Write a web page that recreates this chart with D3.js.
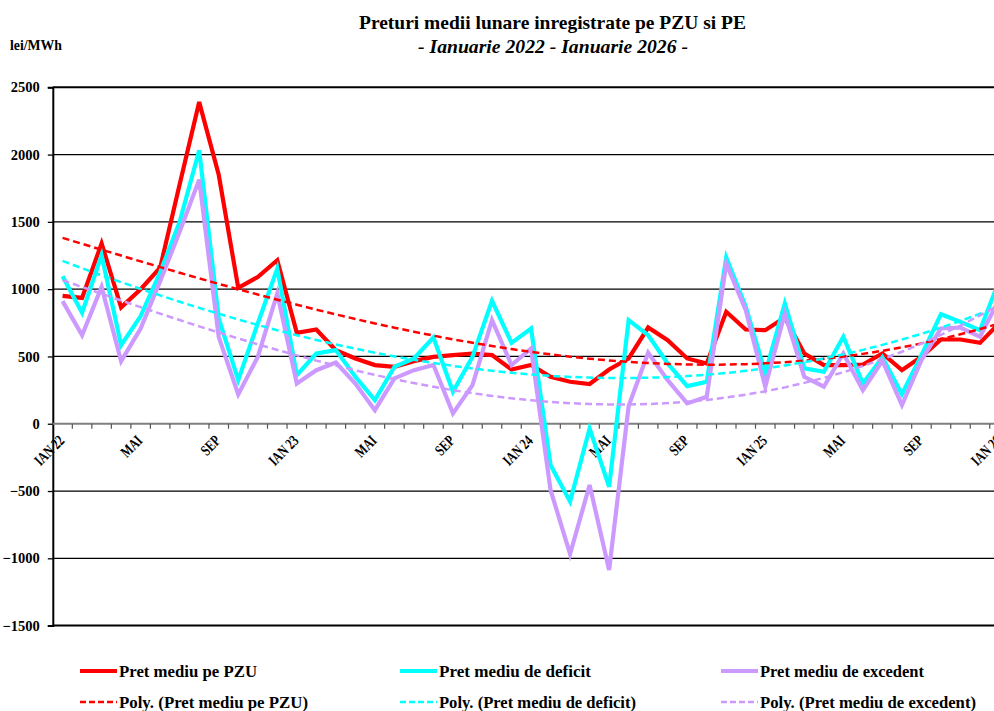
<!DOCTYPE html>
<html>
<head>
<meta charset="utf-8">
<script src="https://cdn.jsdelivr.net/npm/d3@7"></script>
<style>
  html, body { margin: 0; padding: 0; background: #fff; }
  svg { display: block; font-family: "Liberation Serif", "Times New Roman", serif; }
</style>
</head>
<body>
<svg id="chart" width="994" height="711"></svg>
<script>
// ---------------- DATA ----------------
const months = [
  "IAN 22","FEB 22","MAR 22","APR 22","MAI 22","IUN 22","IUL 22","AUG 22","SEP 22","OCT 22","NOI 22","DEC 22",
  "IAN 23","FEB 23","MAR 23","APR 23","MAI 23","IUN 23","IUL 23","AUG 23","SEP 23","OCT 23","NOI 23","DEC 23",
  "IAN 24","FEB 24","MAR 24","APR 24","MAI 24","IUN 24","IUL 24","AUG 24","SEP 24","OCT 24","NOI 24","DEC 24",
  "IAN 25","FEB 25","MAR 25","APR 25","MAI 25","IUN 25","IUL 25","AUG 25","SEP 25","OCT 25","NOI 25","DEC 25",
  "IAN 26"
];
// labels shown on the axis (every 4th month)
const tickLabels = {
  "IAN 22":"IAN 22","MAI 22":"MAI","SEP 22":"SEP",
  "IAN 23":"IAN 23","MAI 23":"MAI","SEP 23":"SEP",
  "IAN 24":"IAN 24","MAI 24":"MAI","SEP 24":"SEP",
  "IAN 25":"IAN 25","MAI 25":"MAI","SEP 25":"SEP",
  "IAN 26":"IAN 26"
};
const pzu = [950,935,1340,865,1000,1160,1780,2390,1850,1010,1090,1215,
             676,700,547,485,436,423,465,497,510,522,510,403,
             436,349,312,295,403,485,715,621,485,448,832,700,
             695,790,522,436,436,440,522,398,497,626,626,601,
             750];
const deficit = [1096,824,1252,584,800,1125,1500,2032,782,324,745,1153,
                 361,522,547,349,176,423,485,641,238,497,913,601,
                 708,-307,-579,-35,-468,770,658,448,280,312,1235,869,
                 374,893,411,386,646,299,493,220,510,814,757,695,
                 1070];
const excedent = [911,658,1017,465,708,1060,1426,1814,646,218,497,968,
                  299,398,455,299,101,337,398,436,77,287,770,436,
                  559,-493,-968,-455,-1087,131,527,324,151,200,1190,844,
                  275,819,349,275,522,250,468,139,473,708,715,646,
                  930];
const yTicks = [2500,2000,1500,1000,500,0,-500,-1000,-1500];
const seriesNames = ["Pret mediu pe PZU","Pret mediu de deficit","Pret mediu de excedent"];
const trendNames = ["Poly. (Pret mediu pe PZU)","Poly. (Pret mediu de deficit)","Poly. (Pret mediu de excedent)"];
const colors = ["#ff0000","#00ffff","#cc99ff"];

// ---------------- LAYOUT ----------------
const svg = d3.select("#chart");
const left = 52.8, step = 19.52;
const x = d3.scaleBand().domain(months).range([left, left + step * months.length]).paddingInner(0).paddingOuter(0);
const cx = d => x(d) + x.bandwidth() / 2;
const y = d3.scaleLinear().domain([-1500, 2500]).range([625.6, 87.3]);
const plotRight = 994;
const FONT = "Liberation Serif, Times New Roman, serif";

svg.append("rect").attr("width", 994).attr("height", 711).attr("fill", "#fff");

// gridlines
svg.append("g").selectAll("line").data(yTicks.filter(v => v !== 0)).join("line")
  .attr("x1", left).attr("x2", plotRight)
  .attr("y1", d => y(d)).attr("y2", d => y(d))
  .attr("stroke", "#000").attr("stroke-width", d => (d === 2500 || d === -1500) ? 2 : 1.3);

// Y axis
const yAxis = d3.axisLeft(y).tickValues(yTicks).tickSize(5).tickPadding(8).tickFormat(d3.format("d"));
const gy = svg.append("g").attr("transform", `translate(${left},0)`).call(yAxis);
gy.select(".domain").attr("stroke", "#000").attr("stroke-width", 2);
gy.selectAll(".tick line").attr("stroke", "#000").attr("stroke-width", 1.3);
gy.selectAll(".tick text").attr("font-size", 14.5).attr("font-weight", "bold")
  .attr("font-family", FONT).attr("fill", "#000");

// X axis at zero
const gx = svg.append("g").attr("transform", `translate(0,${y(0)})`);
gx.append("line").attr("x1", left).attr("x2", plotRight).attr("y1", 0).attr("y2", 0)
  .attr("stroke", "#808080").attr("stroke-width", 2);
gx.selectAll("line.tk").data(months.slice(1)).join("line").attr("class", "tk")
  .attr("x1", d => x(d)).attr("x2", d => x(d)).attr("y1", 0).attr("y2", 5)
  .attr("stroke", "#555").attr("stroke-width", 1.2);
gx.selectAll("text").data(months.filter(m => tickLabels[m])).join("text")
  .attr("transform", d => `translate(${cx(d) - 1},${14}) rotate(-45)`)
  .attr("text-anchor", "end").attr("dy", "0.35em")
  .attr("font-size", 15.5).attr("font-weight", "bold").attr("fill", "#000")
  .text(d => tickLabels[d])
  .each(function () {
    const w = this.getComputedTextLength();
    d3.select(this).attr("textLength", w * 0.74).attr("lengthAdjust", "spacingAndGlyphs");
  });

// ---------------- TRENDLINES (least-squares polynomial, order 3) ----------------
function polyFit(vals, order) {
  const n = order + 1;
  const A = Array.from({length: n}, () => new Array(n + 1).fill(0));
  vals.forEach((v, i) => {
    const t = (i + 1) / vals.length;
    for (let r = 0; r < n; r++) {
      for (let c = 0; c < n; c++) A[r][c] += Math.pow(t, r + c);
      A[r][n] += v * Math.pow(t, r);
    }
  });
  for (let p = 0; p < n; p++) {
    let m = p;
    for (let r = p + 1; r < n; r++) if (Math.abs(A[r][p]) > Math.abs(A[m][p])) m = r;
    [A[p], A[m]] = [A[m], A[p]];
    for (let r = 0; r < n; r++) {
      if (r === p) continue;
      const f = A[r][p] / A[p][p];
      for (let c = p; c <= n; c++) A[r][c] -= f * A[p][c];
    }
  }
  const coef = A.map((row, i) => row[n] / row[i]);
  return vals.map((_, i) => coef.reduce((s, c, k) => s + c * Math.pow((i + 1) / vals.length, k), 0));
}

svg.append("clipPath").attr("id", "plotclip").append("rect")
  .attr("x", left).attr("y", 80).attr("width", plotRight - left).attr("height", 560);

const line = d3.line().x((d, i) => cx(months[i])).y(d => y(d));
const plot = svg.append("g").attr("clip-path", "url(#plotclip)");
const series = [pzu, deficit, excedent];

series.forEach((s, k) => {
  plot.append("path").datum(s).attr("d", line)
    .attr("fill", "none").attr("stroke", colors[k]).attr("stroke-width", 4.2)
    .attr("stroke-linejoin", "miter");
});
series.forEach((s, k) => {
  plot.append("path").datum(polyFit(s, 3)).attr("d", line)
    .attr("fill", "none").attr("stroke", colors[k]).attr("stroke-width", 2.5)
    .attr("stroke-dasharray", "7,4");
});

// ---------------- TITLES ----------------
svg.append("text").attr("x", 552.5).attr("y", 29).attr("text-anchor", "middle")
  .attr("font-size", 19).attr("font-weight", "bold")
  .attr("textLength", 387).attr("lengthAdjust", "spacingAndGlyphs")
  .text("Preturi medii lunare inregistrate pe PZU si PE");
svg.append("text").attr("x", 553).attr("y", 53).attr("text-anchor", "middle")
  .attr("font-size", 19).attr("font-weight", "bold").attr("font-style", "italic")
  .attr("textLength", 270).attr("lengthAdjust", "spacingAndGlyphs")
  .text("- Ianuarie 2022 - Ianuarie 2026 -");
svg.append("text").attr("x", 10).attr("y", 50)
  .attr("font-size", 14).attr("font-weight", "bold")
  .attr("textLength", 52).attr("lengthAdjust", "spacingAndGlyphs")
  .text("lei/MWh");

// ---------------- LEGEND ----------------
const legX = [80, 400, 721];
const legY = [671, 702];
const legW1 = [138, 152, 164];
const legW2 = [189, 197, 216];
const leg = svg.append("g");
[0, 1, 2].forEach(k => {
  leg.append("line").attr("x1", legX[k]).attr("x2", legX[k] + 37).attr("y1", legY[0]).attr("y2", legY[0])
    .attr("stroke", colors[k]).attr("stroke-width", 4);
  leg.append("text").attr("x", legX[k] + 39).attr("y", legY[0] + 5.5)
    .attr("font-size", 16.5).attr("font-weight", "bold")
    .attr("textLength", legW1[k]).attr("lengthAdjust", "spacingAndGlyphs")
    .text(seriesNames[k]);
  leg.append("line").attr("x1", legX[k]).attr("x2", legX[k] + 37).attr("y1", legY[1]).attr("y2", legY[1])
    .attr("stroke", colors[k]).attr("stroke-width", 2.5).attr("stroke-dasharray", "6,3");
  leg.append("text").attr("x", legX[k] + 39).attr("y", legY[1] + 5.5)
    .attr("font-size", 16.5).attr("font-weight", "bold")
    .attr("textLength", legW2[k]).attr("lengthAdjust", "spacingAndGlyphs")
    .text(trendNames[k]);
});
</script>
</body>
</html>
